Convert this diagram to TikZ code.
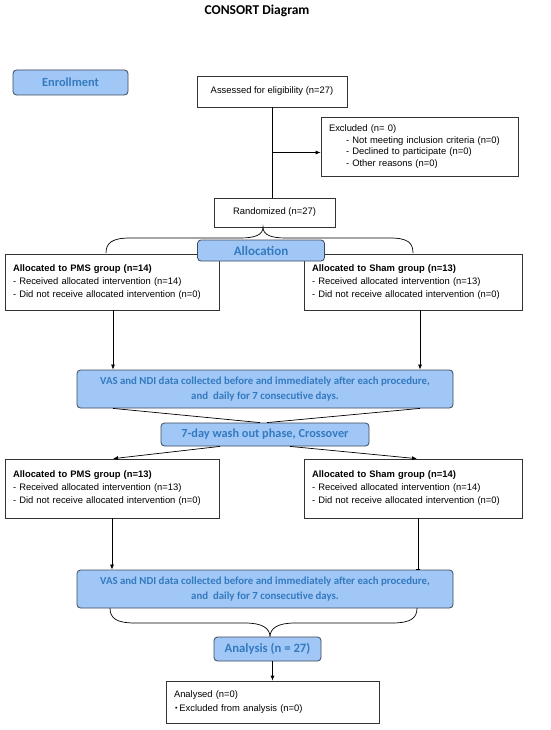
\documentclass[tikz,border=0pt]{standalone}
\usepackage{fontspec}
\setmainfont{Liberation Sans}
\newfontfamily\carl{Carlito}
\usetikzlibrary{arrows.meta}
\definecolor{fillc}{RGB}{160,199,245}
\definecolor{bordc}{RGB}{62,72,92}
\definecolor{txtc}{RGB}{52,122,192}
\tikzset{
  wbox/.style={draw=black!80, line width=0.7pt, fill=white, inner sep=0pt,
    font=\fontsize{9.4}{13}\selectfont},
  lbox/.style={wbox, inner xsep=8pt, align=left},
  bbox/.style={draw=bordc, fill=fillc, rounded corners=3.5pt, line width=0.8pt,
    text=txtc, inner sep=0pt, font=\carl\bfseries\fontsize{12.4}{14}\selectfont},
  arr/.style={-{Latex[length=5pt,width=4pt]}, line width=0.7pt},
  ln/.style={line width=0.7pt},
}
\begin{document}
\begin{tikzpicture}[x=1pt,y=-1pt]
\useasboundingbox (0,0) rectangle (550,730);
\fill[white] (0,0) rectangle (550,730);

\node[font=\carl\bfseries\fontsize{13.5}{16}\selectfont] (title) at (257,11) {CONSORT Diagram};

\node[bbox, minimum width=115pt, minimum height=25pt] (enr) at (70.5,82.5) {Enrollment};
\node[wbox, minimum width=150pt, minimum height=31pt] (ass) at (272,91.5) {Assessed for eligibility (n=27)};
\node[lbox, text width=181pt, minimum height=59pt, font=\fontsize{9.4}{11.8}\selectfont] (exc) at (419.5,146.5)
  {Excluded (n= 0)\\
   \hspace*{17pt}- Not meeting inclusion criteria (n=0)\\
   \hspace*{17pt}- Declined to participate (n=0)\\
   \hspace*{17pt}- Other reasons (n=0)};
\node[wbox, minimum width=121pt, minimum height=29pt] (rnd) at (274.5,212.5) {Randomized (n=27)};

% brace 1
\coordinate (b1l) at (106,253);
\coordinate (b1r) at (413,253);
\coordinate (b1t) at (263,227);
\draw[ln] (b1l) .. controls (106,243) and (112,238) .. (130,238) -- (240,238)
  .. controls (255,238) and (263,235) .. (b1t)
  .. controls (263,235) and (271,238) .. (286,238) -- (390,238)
  .. controls (408,238) and (413,243) .. (b1r);

\node[lbox, text width=198pt, minimum height=56pt] (pms1) at (112,282)
  {\textbf{Allocated to PMS group (n=14)}\\
   - Received allocated intervention (n=14)\\
   - Did not receive allocated intervention (n=0)};
\node[lbox, text width=202pt, minimum height=56pt] (sham1) at (413,282)
  {\textbf{Allocated to Sham group (n=13)}\\
   - Received allocated intervention (n=13)\\
   - Did not receive allocated intervention (n=0)};
\node[bbox, minimum width=127pt, minimum height=21pt,
  font=\carl\bfseries\fontsize{13}{14}\selectfont] (alloc) at (261,250.5) {Allocation};

\node[bbox, minimum width=376pt, minimum height=38pt, align=center,
  font=\carl\bfseries\fontsize{10.8}{14.5}\selectfont] (vas1) at (265,389)
  {VAS and NDI data collected before and immediately after each procedure,\\
   and \ daily for 7 consecutive days.};
\node[bbox, minimum width=208pt, minimum height=23pt,
  font=\carl\bfseries\fontsize{12.3}{14}\selectfont] (wash) at (265,434.5) {7-day wash out phase, Crossover};

\node[lbox, text width=198pt, minimum height=59pt] (pms2) at (112,488.5)
  {\textbf{Allocated to PMS group (n=13)}\\
   - Received allocated intervention (n=13)\\
   - Did not receive allocated intervention (n=0)};
\node[lbox, text width=202pt, minimum height=59pt] (sham2) at (413,488.5)
  {\textbf{Allocated to Sham group (n=14)}\\
   - Received allocated intervention (n=14)\\
   - Did not receive allocated intervention (n=0)};

\node[bbox, minimum width=376pt, minimum height=38pt, align=center,
  font=\carl\bfseries\fontsize{10.8}{14.5}\selectfont] (vas2) at (265,589)
  {VAS and NDI data collected before and immediately after each procedure,\\
   and \ daily for 7 consecutive days.};

% brace 2
\coordinate (b2l) at (110,608);
\coordinate (b2r) at (417,608);
\draw[ln] (b2l) .. controls (110,618) and (116,623) .. (135,623) -- (245,623)
  .. controls (262,623) and (270,628) .. (270,637)
  .. controls (270,628) and (278,623) .. (295,623) -- (392,623)
  .. controls (411,623) and (417,618) .. (b2r);

\node[bbox, minimum width=107pt, minimum height=24pt,
  font=\carl\bfseries\fontsize{12.7}{14}\selectfont] (ana) at (267.5,649) {Analysis (n = 27)};
\node[lbox, text width=197pt, minimum height=42pt, font=\fontsize{9.4}{14}\selectfont] (anad) at (272.5,702)
  {Analysed (n=0)\\
   \hspace*{1pt}{\fontsize{7}{7}\selectfont\raisebox{0.6pt}{•}}\hspace{2pt}Excluded from analysis (n=0)};

% connectors
\coordinate (j1) at (272,152.5);
\draw[ln] (ass.south) -- (ass.south |- rnd.north);
\draw[arr] (j1) -- (exc.west |- j1);

\draw[arr] ([xshift=1pt]pms1.south) -- ([xshift=1pt]pms1.south |- vas1.north);
\draw[arr] ([xshift=7pt]sham1.south) -- ([xshift=7pt]sham1.south |- vas1.north);

\draw[ln] ([xshift=-152pt]vas1.south) -- ([xshift=-5pt]wash.north);
\draw[ln] ([xshift=155pt]vas1.south) -- ([xshift=2pt]wash.north);

\draw[arr] ([xshift=-45pt]wash.south) -- ([xshift=1pt]pms2.north);
\draw[arr] ([xshift=25pt]wash.south) -- ([xshift=4pt]sham2.north);

\draw[arr] (pms2.south) -- (pms2.south |- vas2.north);
\draw[ln, -{Bar[width=4pt]}] ([xshift=5pt]sham2.south) -- ([xshift=5pt]sham2.south |- vas2.north);

\draw[arr] (anad.north |- ana.south) -- (anad.north);
\end{tikzpicture}
\end{document}
